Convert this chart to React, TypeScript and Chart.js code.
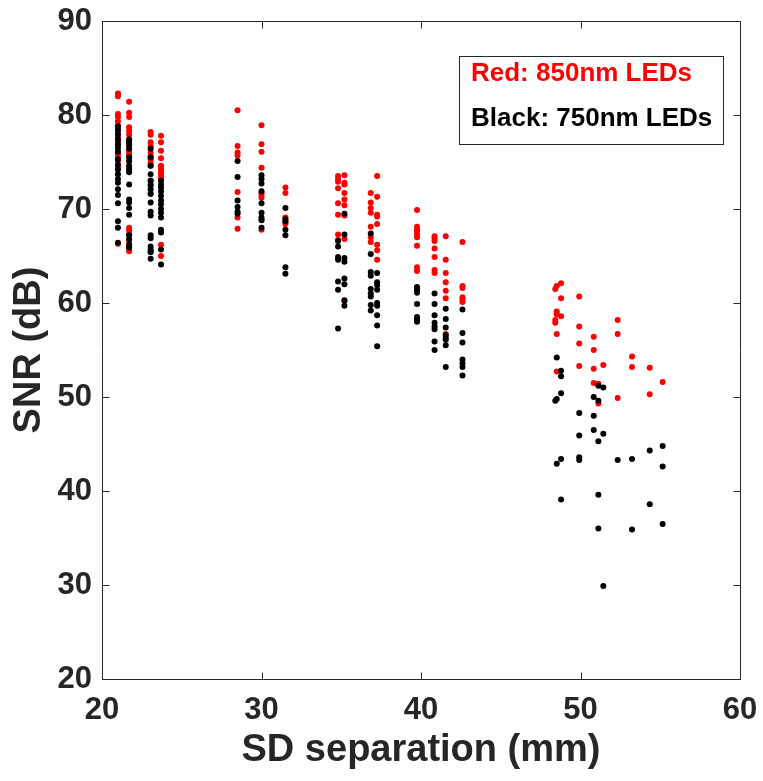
import React, { useEffect, useRef } from "react";
import { Chart, registerables } from "chart.js";

Chart.register(...registerables);

// SD separation (mm) of each measurement column (near/mid separations)
const columnX = [21.0, 21.7, 23.05, 23.7, 28.5, 30.0, 31.5, 34.8, 35.2, 36.85, 37.25, 39.75, 40.85, 41.55, 42.6];

// SNR (dB) values, 850 nm LEDs (red), one list per column
const redSNR = [
  [82.3, 82.0, 80.1, 79.8, 79.3, 78.8, 78.5, 78.1, 77.6, 77.2, 76.8, 76.0, 75.8, 75.4, 75.1, 74.6, 74.3, 66.3],
  [81.4, 80.25, 79.8, 78.7, 78.3, 77.9, 77.4, 76.9, 76.2, 75.9, 75.6, 75.1, 74.5, 68.0, 67.7, 67.3, 66.6, 66.2, 65.9, 65.5],
  [78.2, 77.9, 77.1, 76.7, 76.0, 75.6, 75.3, 74.9, 74.6, 73.0, 72.6, 71.7, 65.5],
  [77.8, 77.1, 76.2, 75.4, 74.6, 74.3, 74.0, 73.8, 73.5, 73.2, 66.2, 65.0],
  [80.5, 76.7, 76.0, 75.7, 71.8, 69.1, 67.9],
  [78.9, 76.9, 76.1, 74.4, 71.7, 71.5, 71.2, 68.9, 67.8],
  [72.3, 71.7, 69.1, 68.6, 68.4],
  [73.5, 73.2, 72.9, 72.2, 70.6, 69.4, 67.3, 66.7],
  [73.6, 72.8, 72.6, 71.7, 71.0, 70.4, 69.3, 66.8, 60.2],
  [71.7, 70.7, 70.1, 69.6, 68.1, 67.0, 66.5],
  [73.5, 71.3, 69.4, 69.2, 68.4, 66.2, 65.6, 64.6],
  [69.9, 68.1, 67.8, 67.6, 67.3, 67.0, 66.1, 63.8, 63.4],
  [67.1, 66.9, 66.6, 65.8, 64.9, 63.5, 63.2],
  [67.1, 64.6, 63.2, 62.2, 61.3, 60.5, 56.7],
  [66.5, 61.8, 61.6, 60.6, 60.4, 60.1],
];

// SNR (dB) values, 750 nm LEDs (black), one list per column
const blackSNR = [
  [78.8, 78.4, 77.9, 77.4, 76.9, 76.5, 76.1, 75.3, 74.7, 74.2, 73.7, 73.2, 72.8, 72.1, 71.5, 70.6, 68.7, 68.0, 66.4],
  [77.4, 77.1, 76.7, 76.4, 75.5, 75.1, 74.6, 74.2, 73.9, 72.6, 71.0, 70.7, 70.1, 69.4, 67.2, 66.8, 66.2, 65.9],
  [76.4, 75.5, 74.6, 73.7, 73.0, 72.5, 72.1, 71.6, 70.7, 69.7, 69.3, 67.2, 66.9, 66.0, 65.7, 65.4, 64.7],
  [73.0, 72.6, 72.3, 71.9, 71.4, 70.9, 70.5, 70.0, 69.6, 69.1, 67.8, 67.5, 65.7, 64.1],
  [75.1, 73.4, 70.9, 70.2, 69.7, 69.5],
  [73.6, 73.2, 72.7, 71.9, 70.6, 69.6, 69.1, 68.8, 68.0],
  [70.1, 68.9, 68.7, 67.8, 67.2, 63.8, 63.1],
  [66.6, 66.0, 64.9, 64.6, 62.3, 61.4, 57.3],
  [69.5, 67.3, 64.8, 64.4, 62.6, 62.0, 60.3, 59.7],
  [67.4, 65.2, 63.3, 62.9, 61.5, 61.0, 60.7, 59.8, 59.2],
  [63.2, 62.2, 61.9, 61.4, 60.0, 59.7, 58.7, 57.6, 55.4],
  [61.7, 61.4, 61.1, 59.9, 58.5, 58.3, 58.0],
  [61.0, 59.9, 58.7, 57.9, 57.5, 57.2, 55.9, 55.0],
  [59.4, 58.3, 57.4, 56.6, 56.3, 56.1, 55.5, 53.2],
  [59.3, 56.8, 55.8, 54.0, 53.6, 53.2, 52.3],
];

// Far separations (scattered individual points)
const farRedX = [48.42, 48.51, 48.78, 48.78, 49.92, 48.51, 48.51, 48.78, 48.42, 48.42, 48.51, 49.92, 49.92, 50.83, 50.83, 49.92, 50.83, 51.43, 48.51, 50.83, 51.12, 51.12, 52.33, 52.33, 52.33, 53.23, 53.23, 54.34, 55.15, 54.34];
const farRedY = [61.5, 61.8, 62.1, 60.5, 60.7, 59.1, 58.8, 58.6, 58.2, 57.9, 56.7, 57.5, 55.7, 56.4, 55.0, 53.3, 53.0, 53.4, 52.7, 51.5, 51.4, 49.3, 58.2, 56.7, 49.9, 54.3, 53.2, 53.1, 51.6, 50.3];
const farBlackX = [48.51, 48.78, 48.78, 48.78, 48.42, 48.51, 49.92, 50.83, 51.12, 51.43, 51.12, 50.83, 49.92, 50.83, 51.43, 51.12, 48.51, 48.78, 49.92, 49.92, 52.33, 48.78, 51.12, 51.12, 51.43, 53.23, 54.34, 55.15, 55.15, 54.34, 53.23, 55.15];
const farBlackY = [54.2, 52.8, 52.2, 50.4, 49.6, 49.8, 48.3, 50.0, 51.2, 51.0, 49.6, 48.0, 45.9, 46.5, 46.1, 45.3, 42.9, 43.4, 43.6, 43.3, 43.3, 39.1, 39.6, 36.0, 29.9, 43.4, 44.3, 44.8, 42.6, 38.6, 35.9, 36.5];

const legendLines = ["Red: 850nm LEDs", "Black: 750nm LEDs"];
const xTitle = "SD separation (mm)";
const yTitle = "SNR (dB)";

const AXIS = "#262626";
const FONT = "'Liberation Sans', Arial, Helvetica, sans-serif";

function buildPoints(cols: number[][], farX: number[], farY: number[]) {
  const pts: { x: number; y: number }[] = [];
  cols.forEach((ys, i) => ys.forEach((y) => pts.push({ x: columnX[i], y })));
  farX.forEach((x, i) => pts.push({ x, y: farY[i] }));
  return pts;
}

const framePlugin = {
  id: "frame",
  afterDraw(chart: any) {
    const { ctx, chartArea } = chart;
    const { left, right, top, bottom } = chartArea;
    const xs = chart.scales.x;
    const ys = chart.scales.y;
    const tl = 7;
    ctx.save();
    ctx.strokeStyle = AXIS;
    ctx.lineWidth = 1;
    const L = Math.round(left) + 0.5;
    const R = Math.round(right) + 0.5;
    const T = Math.round(top) + 0.5;
    const B = Math.round(bottom) + 0.5;
    ctx.beginPath();
    ctx.rect(L, T, R - L, B - T);
    ctx.stroke();
    ctx.beginPath();
    xs.ticks.forEach((t: any) => {
      const px = Math.round(xs.getPixelForValue(t.value)) + 0.5;
      ctx.moveTo(px, B);
      ctx.lineTo(px, B - tl);
      ctx.moveTo(px, T);
      ctx.lineTo(px, T + tl);
    });
    ys.ticks.forEach((t: any) => {
      const py = Math.round(ys.getPixelForValue(t.value)) + 0.5;
      ctx.moveTo(L, py);
      ctx.lineTo(L + tl, py);
      ctx.moveTo(R, py);
      ctx.lineTo(R - tl, py);
    });
    ctx.stroke();

    // legend box (text-only legend, as in the original)
    const bx = 459.5, by = 56.5, bw = 264, bh = 88;
    ctx.fillStyle = "#ffffff";
    ctx.fillRect(bx, by, bw, bh);
    ctx.strokeStyle = AXIS;
    ctx.strokeRect(bx, by, bw, bh);
    ctx.font = `bold 26px ${FONT}`;
    ctx.textBaseline = "middle";
    ctx.textAlign = "left";
    ctx.fillStyle = "#ff0000";
    ctx.fillText(legendLines[0], 471, 74);
    ctx.fillStyle = "#000000";
    ctx.fillText(legendLines[1], 471, 119);
    ctx.restore();
  },
};

export default function App() {
  const ref = useRef<HTMLCanvasElement>(null);
  useEffect(() => {
    const chart = new Chart(ref.current!, {
      type: "scatter",
      data: {
        datasets: [
          {
            label: "750nm",
            data: buildPoints(blackSNR, farBlackX, farBlackY),
            backgroundColor: "#000000",
            borderWidth: 0,
            pointRadius: 3,
          },
          {
            label: "850nm",
            data: buildPoints(redSNR, farRedX, farRedY),
            backgroundColor: "#ff0000",
            borderWidth: 0,
            pointRadius: 3,
          },
        ],
      },
      options: {
        animation: false,
        responsive: false,
        devicePixelRatio: 1,
        layout: { padding: { left: 0, top: 21, right: 23, bottom: 0 } },
        plugins: { legend: { display: false }, tooltip: { enabled: false } },
        scales: {
          x: {
            type: "linear",
            min: 20,
            max: 60,
            ticks: {
              stepSize: 10,
              padding: 13,
              color: AXIS,
              font: { family: FONT, size: 31, weight: "bold" },
            },
            grid: { display: false, drawTicks: false },
            border: { display: false },
            title: {
              display: true,
              text: xTitle,
              color: AXIS,
              font: { family: FONT, size: 38, weight: "bold" },
              padding: { top: 8, bottom: 8 },
            },
            afterFit: (s: any) => {
              s.height = 102;
              s.paddingLeft = 0;
              s.paddingRight = 0;
            },
          },
          y: {
            type: "linear",
            min: 20,
            max: 90,
            ticks: {
              stepSize: 10,
              padding: 10,
              color: AXIS,
              font: { family: FONT, size: 31, weight: "bold" },
            },
            grid: { display: false, drawTicks: false },
            border: { display: false },
            title: {
              display: true,
              text: yTitle,
              color: AXIS,
              font: { family: FONT, size: 38, weight: "bold" },
              padding: { top: 7, bottom: 7 },
            },
            afterFit: (s: any) => {
              s.width = 102;
              s.paddingTop = 0;
              s.paddingBottom = 0;
            },
          },
        },
      },
      plugins: [framePlugin],
    } as any);
    return () => chart.destroy();
  }, []);
  return (
    <div style={{ position: "absolute", left: 0, top: 0, width: 763, height: 781, background: "#ffffff" }}>
      <canvas ref={ref} width={763} height={781} style={{ display: "block" }} />
    </div>
  );
}
